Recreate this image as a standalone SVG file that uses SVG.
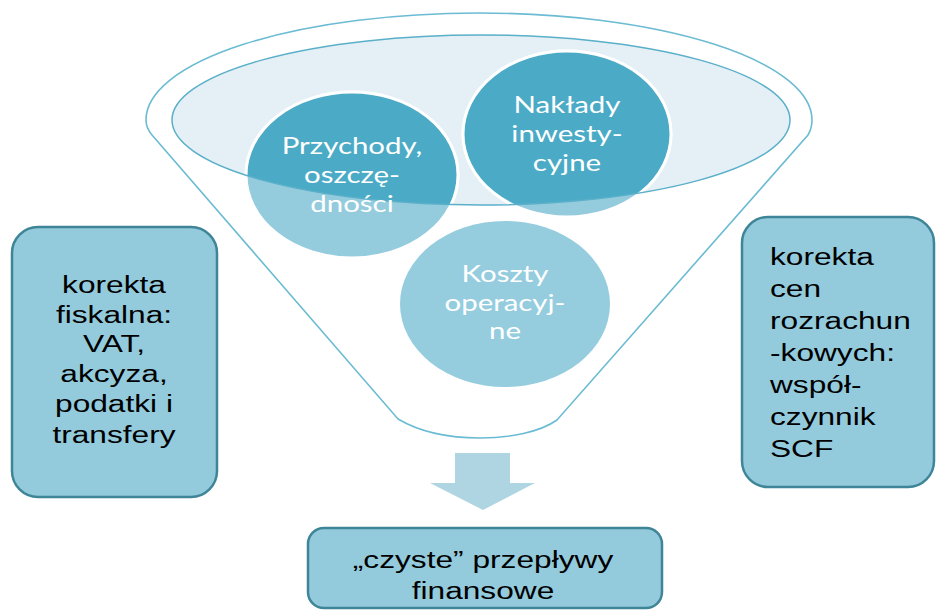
<svg xmlns="http://www.w3.org/2000/svg" width="936" height="613" viewBox="0 0 936 613">
<style>
.box{fill:#93cbdd;stroke:#3f8598;stroke-width:2.5}
.bt{font-family:"Liberation Sans",Arial,sans-serif;font-size:24px;fill:#000}
.ct{font-family:Lato,"Open Sans",sans-serif;font-size:23px;fill:#fff;text-anchor:middle}
.lite{fill:#94cbdd;stroke:#fff;stroke-width:3}
.dark{fill:#4babc6;stroke:#fff;stroke-width:3}
</style>
<defs>
<clipPath id="inner"><ellipse cx="481" cy="120" rx="309" ry="85"/></clipPath>
</defs>
<rect width="936" height="613" fill="#fff"/>
<g id="funnel">
<path d="M152,135 Q146,128 146,120 A333,107 0 0 1 812,120 Q812,128 808,135 L557,420 C540,432 510,438 480,438 C450,438 420,432 398,419 Z" fill="#fff" stroke="#6bbbd3" stroke-width="1.6"/>
<ellipse cx="481" cy="120" rx="309" ry="85" fill="#e4f0f5"/>
</g>
<g id="przychody">
<ellipse class="lite" cx="352" cy="175" rx="106" ry="83"/>
<ellipse class="dark" cx="352" cy="175" rx="106" ry="83" clip-path="url(#inner)"/>
</g>
<g id="naklady">
<ellipse class="lite" cx="567" cy="134" rx="104" ry="83"/>
<ellipse class="dark" cx="567" cy="134" rx="104" ry="83" clip-path="url(#inner)"/>
</g>
<ellipse cx="481" cy="120" rx="309" ry="85" fill="none" stroke="#5aafc9" stroke-width="1.5"/>
<g id="koszty">
<ellipse fill="#95cddf" cx="505" cy="304" rx="105" ry="83"/>
<g transform="translate(505,0) scale(1.28,1)">
<text class="ct" x="0" y="282">Koszty</text>
<text class="ct" x="0" y="311">operacyj-</text>
<text class="ct" x="0" y="339">ne</text>
</g>
</g>
<g transform="translate(352,0) scale(1.28,1)">
<text class="ct" x="0" y="154">Przychody,</text>
<text class="ct" x="0" y="183">oszczę-</text>
<text class="ct" x="0" y="212">dności</text>
</g>
<g transform="translate(567,0) scale(1.28,1)">
<text class="ct" x="0" y="113">Nakłady</text>
<text class="ct" x="0" y="142">inwesty-</text>
<text class="ct" x="0" y="171">cyjne</text>
</g>
<g id="left-box">
<rect class="box" x="12" y="227" width="205" height="270" rx="26"/>
<g transform="translate(114,0) scale(1.32,1)" text-anchor="middle">
<text class="bt" x="0" y="293">korekta</text>
<text class="bt" x="0" y="323">fiskalna:</text>
<text class="bt" x="0" y="352">VAT,</text>
<text class="bt" x="0" y="382">akcyza,</text>
<text class="bt" x="0" y="412">podatki i</text>
<text class="bt" x="0" y="443">transfery</text>
</g>
</g>
<g id="right-box">
<rect class="box" x="742" y="217" width="192" height="270" rx="26"/>
<g transform="translate(770,0) scale(1.32,1)">
<text class="bt" x="0" y="265">korekta</text>
<text class="bt" x="0" y="297">cen</text>
<text class="bt" x="0" y="329">rozrachun</text>
<text class="bt" x="0" y="361">-kowych:</text>
<text class="bt" x="0" y="393">współ-</text>
<text class="bt" x="0" y="425">czynnik</text>
<text class="bt" x="0" y="457">SCF</text>
</g>
</g>
<g id="connectors">
<path d="M455,453 H510 V483 H535 L483,510 L430,483 H455 Z" fill="#b0d5e2"/>
</g>
<g id="result-box">
<rect class="box" x="308" y="528" width="354" height="80" rx="16"/>
<g transform="translate(483,0) scale(1.32,1)" text-anchor="middle">
<text class="bt" x="0" y="568">„czyste” przepływy</text>
<text class="bt" x="0" y="599">finansowe</text>
</g>
</g>
</svg>
